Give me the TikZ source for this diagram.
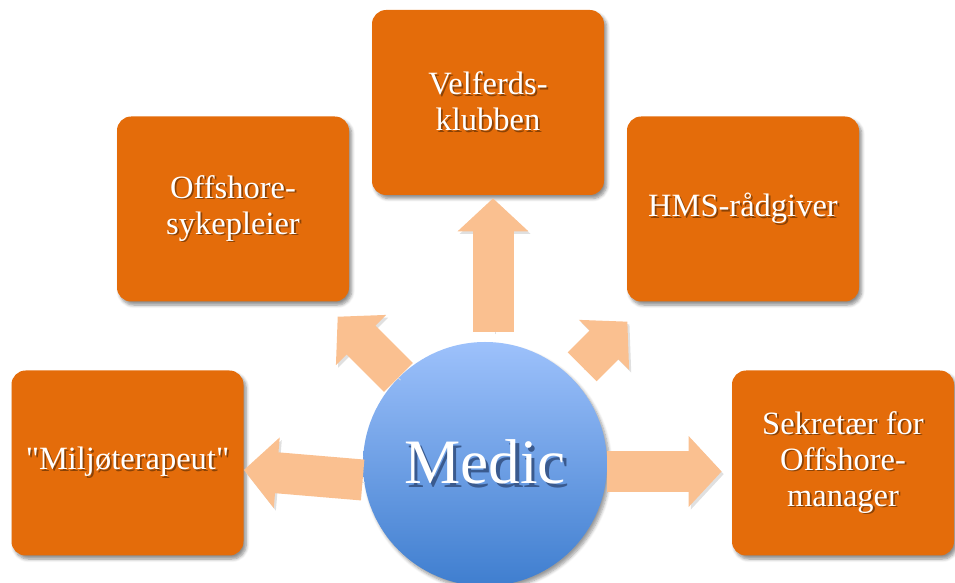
\documentclass[tikz,border=0pt]{standalone}
\usepackage{fontspec}
\setmainfont{Liberation Serif}
\usetikzlibrary{arrows.meta,positioning,calc,shadows.blur}
\definecolor{boxorange}{HTML}{E46C0A}
\definecolor{arrowpeach}{HTML}{FAC090}
\definecolor{medictop}{HTML}{9DC1FB}
\definecolor{medicbot}{HTML}{3F7ECF}
\definecolor{txtshade}{HTML}{8A4206}
\definecolor{medicshade}{HTML}{3A5A8E}

% white text with a small dark shadow behind it
\newcommand\shd[2][txtshade]{\leavevmode\rlap{\hspace{0.055em}\raisebox{-0.055em}{\textcolor{#1}{#2}}}#2}

\begin{document}
\begin{tikzpicture}[
    role/.style={
      fill=boxorange, rounded corners=8pt,
      minimum width=4.64cm, minimum height=3.7cm,
      align=center, text=white, font=\fontsize{18.5}{20.5}\selectfont,
      blur shadow={shadow xshift=1.5pt, shadow yshift=-2pt, shadow blur steps=6, shadow opacity=45}
    },
    hub/.style={
      circle, minimum size=4.88cm, inner sep=0pt,
      top color=medictop, bottom color=medicbot,
      text=white, font=\fontsize{36}{40}\selectfont,
      blur shadow={shadow xshift=1.5pt, shadow yshift=-2pt, shadow blur steps=6, shadow opacity=40}
    },
    push/.style={
      draw=arrowpeach, line width=0.82cm,
      -{Triangle[length=0.66cm, width=1.38cm]},
      preaction={draw=black!12, transform canvas={xshift=1.2pt, yshift=-1.5pt}}
    }
  ]
  \useasboundingbox (0,0) rectangle (19.1,11.66);

  % centre and the five roles around it
  \node[hub] (medic) at (9.70,2.38) {\shd[medicshade]{Medic}};
  \node[role] (velferds) at (9.76,9.61) {\shd{Velferds-}\\\shd{klubben}};
  \node[role] (sykepleier) at (4.66,7.48) {\shd{Offshore-}\\\shd{sykepleier}};
  \node[role] (hms) at (14.86,7.48) {\shd{HMS-rådgiver}};
  \node[role] (miljo) at (2.55,2.40) {\shd{\textquotedbl Miljøterapeut\textquotedbl}};
  \node[role, minimum width=4.44cm] (sekretaer) at (16.86,2.40) {\shd{Sekretær for}\\\shd{Offshore-}\\\shd{manager}};

  % block arrows out of the centre
  \draw[push, shorten <=0.2cm, shorten >=0.06cm] ([xshift=0.16cm]medic.north) -- ([xshift=0.16cm]medic.north |- velferds.south);
  \draw[push, shorten >=0.2cm] ([yshift=-0.15cm]medic.east) -- ([yshift=-0.15cm]medic.east -| sekretaer.west);
  \draw[push] ([yshift=-0.32cm]medic.west) -- ([yshift=-0.14cm]miljo.east);
  \draw[push] (medic.135) -- ++(135:1.72);
  \draw[push, shorten <=0.3cm] (medic.45) -- ++(45:1.58);
\end{tikzpicture}
\end{document}
